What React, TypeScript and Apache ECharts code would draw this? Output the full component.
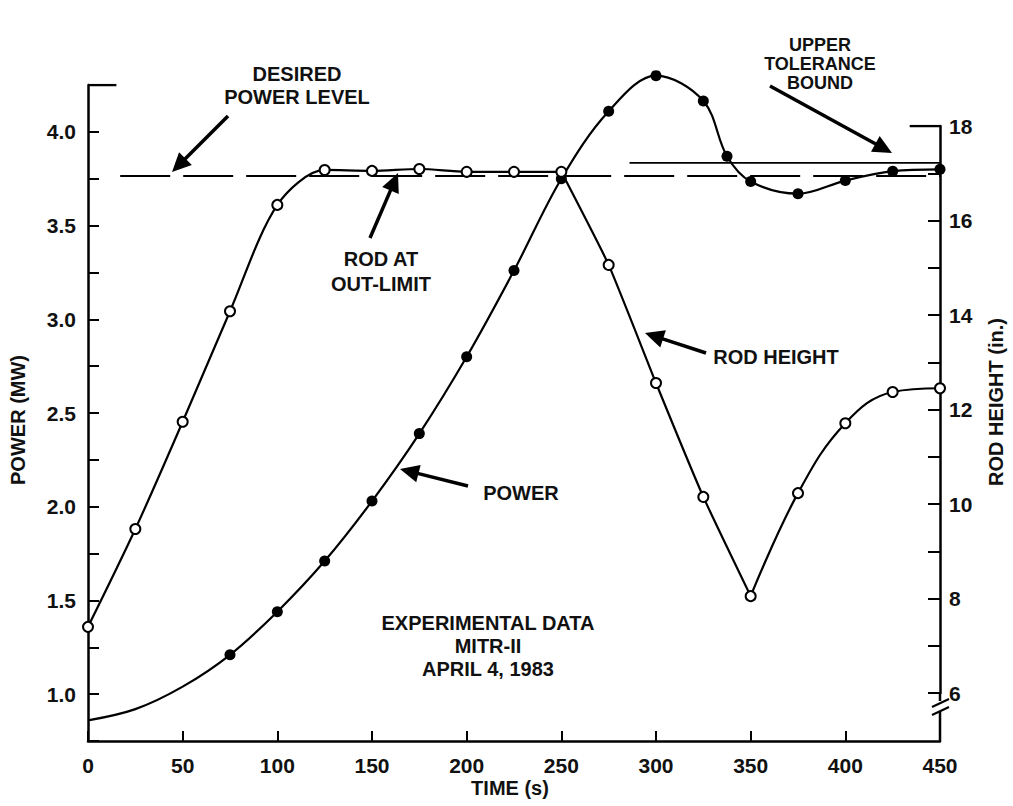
import React, { useEffect, useRef } from "react";
import * as echarts from "echarts";

// ---- Data ----
const rodTime = [0, 25, 50, 75, 100, 125, 150, 175, 200, 225, 250, 275, 300, 325, 350, 375, 400, 425, 450];
const rodHeight = [7.4, 9.47, 11.74, 14.08, 16.33, 17.07, 17.05, 17.09, 17.03, 17.03, 17.03, 15.06, 12.56, 10.15, 8.05, 10.23, 11.71, 12.37, 12.45];

const powerTime = [0, 25, 50, 75, 100, 125, 150, 175, 200, 225, 250, 275, 300, 325, 337.5, 350, 375, 400, 425, 450];
const powerMW = [0.86, 0.92, 1.04, 1.21, 1.44, 1.71, 2.03, 2.39, 2.8, 3.26, 3.75, 4.11, 4.3, 4.165, 3.87, 3.735, 3.67, 3.74, 3.79, 3.8];
const powerMarkedFrom = 75;

const desiredPowerLevel = 3.765;
const desiredStart = 17;
const toleranceBound = 3.835;
const toleranceStart = 286;

const timeMin = 0;
const timeMax = 450;
const powerMin = 0.75;
const powerMax = 4.25;
const rodMin = 6;
const rodMax = 18;

const FONT = "'Liberation Sans', Arial, Helvetica, sans-serif";

function arrow(x1: number, y1: number, x2: number, y2: number) {
  const ang = Math.atan2(y2 - y1, x2 - x1);
  const L = 19;
  const W = 9;
  const c = Math.cos(ang);
  const s = Math.sin(ang);
  const bx = x2 - L * c;
  const by = y2 - L * s;
  const px = -s * W;
  const py = c * W;
  return [
    { type: "line", shape: { x1, y1, x2: bx + 2 * c, y2: by + 2 * s }, style: { stroke: "#000", lineWidth: 3.5 } },
    {
      type: "polygon",
      shape: { points: [[x2, y2], [bx + px, by + py], [bx - px, by - py]] },
      style: { fill: "#000" },
    },
  ];
}

function txt(x: number, y: number, text: string, extra: any = {}, size = 20) {
  return {
    type: "text",
    x,
    y,
    ...extra,
    style: {
      text,
      font: `bold ${size}px ${FONT}`,
      fill: "#111",
      align: "center",
      verticalAlign: "middle",
      lineHeight: 23,
      ...(extra.style || {}),
    },
  };
}

export default function App() {
  const ref = useRef<HTMLDivElement>(null);

  useEffect(() => {
    if (!ref.current) return;
    const chart = echarts.init(ref.current, null, { renderer: "svg" });

    const powerData = powerTime.map((t, i) => ({
      value: [t, powerMW[i]],
      symbol: t >= powerMarkedFrom ? "circle" : "none",
    }));

    const iCorner1 = rodTime.indexOf(250);
    const iCorner2 = rodTime.indexOf(350);
    const rodPairs = rodTime.map((t, i) => [t, rodHeight[i]]);

    const axisLabelStyle = { color: "#111", fontSize: 21, fontFamily: FONT, fontWeight: "bold" as const };

    const option: any = {
      animation: false,
      backgroundColor: "#fff",
      grid: [
        { left: 88, right: 73, top: 85, bottom: 65 },
        { left: 88, right: 73, top: 126, bottom: 113 },
      ],
      xAxis: [
        {
          type: "value",
          gridIndex: 0,
          min: timeMin,
          max: timeMax,
          interval: 50,
          axisLine: { onZero: false, lineStyle: { color: "#000", width: 2.5 } },
          axisTick: { inside: true, length: 10, lineStyle: { color: "#000", width: 2 } },
          axisLabel: { ...axisLabelStyle, margin: 14 },
          splitLine: { show: false },
        },
        { type: "value", gridIndex: 1, min: timeMin, max: timeMax, show: false },
      ],
      yAxis: [
        {
          type: "value",
          gridIndex: 0,
          position: "left",
          min: powerMin,
          max: powerMax,
          interval: 0.25,
          axisLine: { show: true, onZero: false, lineStyle: { color: "#000", width: 2.5 } },
          axisTick: { show: true, inside: true, length: 11, lineStyle: { color: "#000", width: 2 } },
          axisLabel: {
            ...axisLabelStyle,
            margin: 12,
            formatter: (v: number) =>
              v >= 1 && v <= 4 && Math.abs(v * 2 - Math.round(v * 2)) < 1e-6 ? v.toFixed(1) : "",
          },
          splitLine: { show: false },
        },
        {
          type: "value",
          gridIndex: 1,
          position: "right",
          min: rodMin,
          max: rodMax,
          interval: 1,
          axisLine: { show: true, onZero: false, lineStyle: { color: "#000", width: 2.5 } },
          axisTick: { show: true, inside: true, length: 12, lineStyle: { color: "#000", width: 2 } },
          axisLabel: {
            ...axisLabelStyle,
            margin: 9,
            formatter: (v: number) => (Math.round(v) % 2 === 0 ? String(Math.round(v)) : ""),
          },
          splitLine: { show: false },
        },
      ],
      series: [
        {
          name: "Desired power level",
          type: "line",
          xAxisIndex: 0,
          yAxisIndex: 0,
          data: [
            [desiredStart, desiredPowerLevel],
            [timeMax, desiredPowerLevel],
          ],
          symbol: "none",
          lineStyle: { color: "#000", width: 2, type: [50, 13] },
          z: 2,
        },
        {
          name: "Upper tolerance bound",
          type: "line",
          xAxisIndex: 0,
          yAxisIndex: 0,
          data: [
            [toleranceStart, toleranceBound],
            [timeMax, toleranceBound],
          ],
          symbol: "none",
          lineStyle: { color: "#000", width: 1.8 },
          z: 2,
        },
        {
          name: "Left cap",
          type: "line",
          xAxisIndex: 0,
          yAxisIndex: 0,
          data: [
            [timeMin, powerMax],
            [15, powerMax],
          ],
          symbol: "none",
          lineStyle: { color: "#000", width: 2.5 },
        },
        {
          name: "Right cap",
          type: "line",
          xAxisIndex: 1,
          yAxisIndex: 1,
          data: [
            [434, rodMax],
            [timeMax, rodMax],
          ],
          symbol: "none",
          lineStyle: { color: "#000", width: 2.5 },
        },
        {
          name: "Power",
          type: "line",
          xAxisIndex: 0,
          yAxisIndex: 0,
          data: powerData,
          smooth: 0.35,
          clip: false,
          symbolSize: 11,
          showAllSymbol: true,
          itemStyle: { color: "#000" },
          lineStyle: { color: "#000", width: 2.2 },
          z: 3,
        },
        {
          name: "Rod height A",
          type: "line",
          xAxisIndex: 1,
          yAxisIndex: 1,
          data: rodPairs.slice(0, iCorner1 + 1),
          smooth: 0.3,
          symbol: "none",
          lineStyle: { color: "#000", width: 2.2 },
          z: 4,
        },
        {
          name: "Rod height B",
          type: "line",
          xAxisIndex: 1,
          yAxisIndex: 1,
          data: rodPairs.slice(iCorner1, iCorner2 + 1),
          smooth: 0.15,
          symbol: "none",
          lineStyle: { color: "#000", width: 2.2 },
          z: 4,
        },
        {
          name: "Rod height C",
          type: "line",
          xAxisIndex: 1,
          yAxisIndex: 1,
          data: rodPairs.slice(iCorner2),
          smooth: 0.4,
          symbol: "none",
          lineStyle: { color: "#000", width: 2.2 },
          z: 4,
        },
        {
          name: "Rod height",
          type: "scatter",
          xAxisIndex: 1,
          yAxisIndex: 1,
          data: rodPairs,
          symbol: "circle",
          symbolSize: 10,
          itemStyle: { color: "#ffffff", borderColor: "#000", borderWidth: 2, opacity: 1 },
          z: 5,
        },
      ],
      graphic: [
        // right axis continuation with break
        { type: "line", shape: { x1: 940, y1: 693, x2: 940, y2: 701 }, style: { stroke: "#000", lineWidth: 2.5 } },
        { type: "line", shape: { x1: 932, y1: 707, x2: 949, y2: 699 }, style: { stroke: "#000", lineWidth: 2 } },
        { type: "line", shape: { x1: 932, y1: 715, x2: 949, y2: 707 }, style: { stroke: "#000", lineWidth: 2 } },
        { type: "line", shape: { x1: 940, y1: 711, x2: 940, y2: 741 }, style: { stroke: "#000", lineWidth: 2.5 } },
        // axis names
        txt(18, 420, "POWER (MW)", { rotation: Math.PI / 2 }),
        txt(996, 402, "ROD HEIGHT (in.)", { rotation: Math.PI / 2 }),
        txt(510, 788, "TIME (s)"),
        // annotations
        txt(297, 85, "DESIRED\nPOWER LEVEL"),
        ...arrow(228, 116, 172, 172),
        txt(820, 64, "UPPER\nTOLERANCE\nBOUND", { style: { lineHeight: 19 } }, 18),
        ...arrow(770, 86, 892, 153),
        txt(381, 271, "ROD AT\nOUT-LIMIT", { style: { lineHeight: 25 } }),
        ...arrow(370, 238, 398, 173),
        txt(776, 357, "ROD HEIGHT"),
        ...arrow(706, 353, 645, 333),
        txt(521, 493, "POWER"),
        ...arrow(468, 486, 400, 469),
        txt(488, 646, "EXPERIMENTAL DATA\nMITR-II\nAPRIL 4, 1983", { style: { lineHeight: 23 } }),
      ],
    };

    chart.setOption(option);
    return () => chart.dispose();
  }, []);

  return (
    <div
      ref={ref}
      style={{ position: "fixed", left: 0, top: 0, width: 1013, height: 806, background: "#fff" }}
    />
  );
}
